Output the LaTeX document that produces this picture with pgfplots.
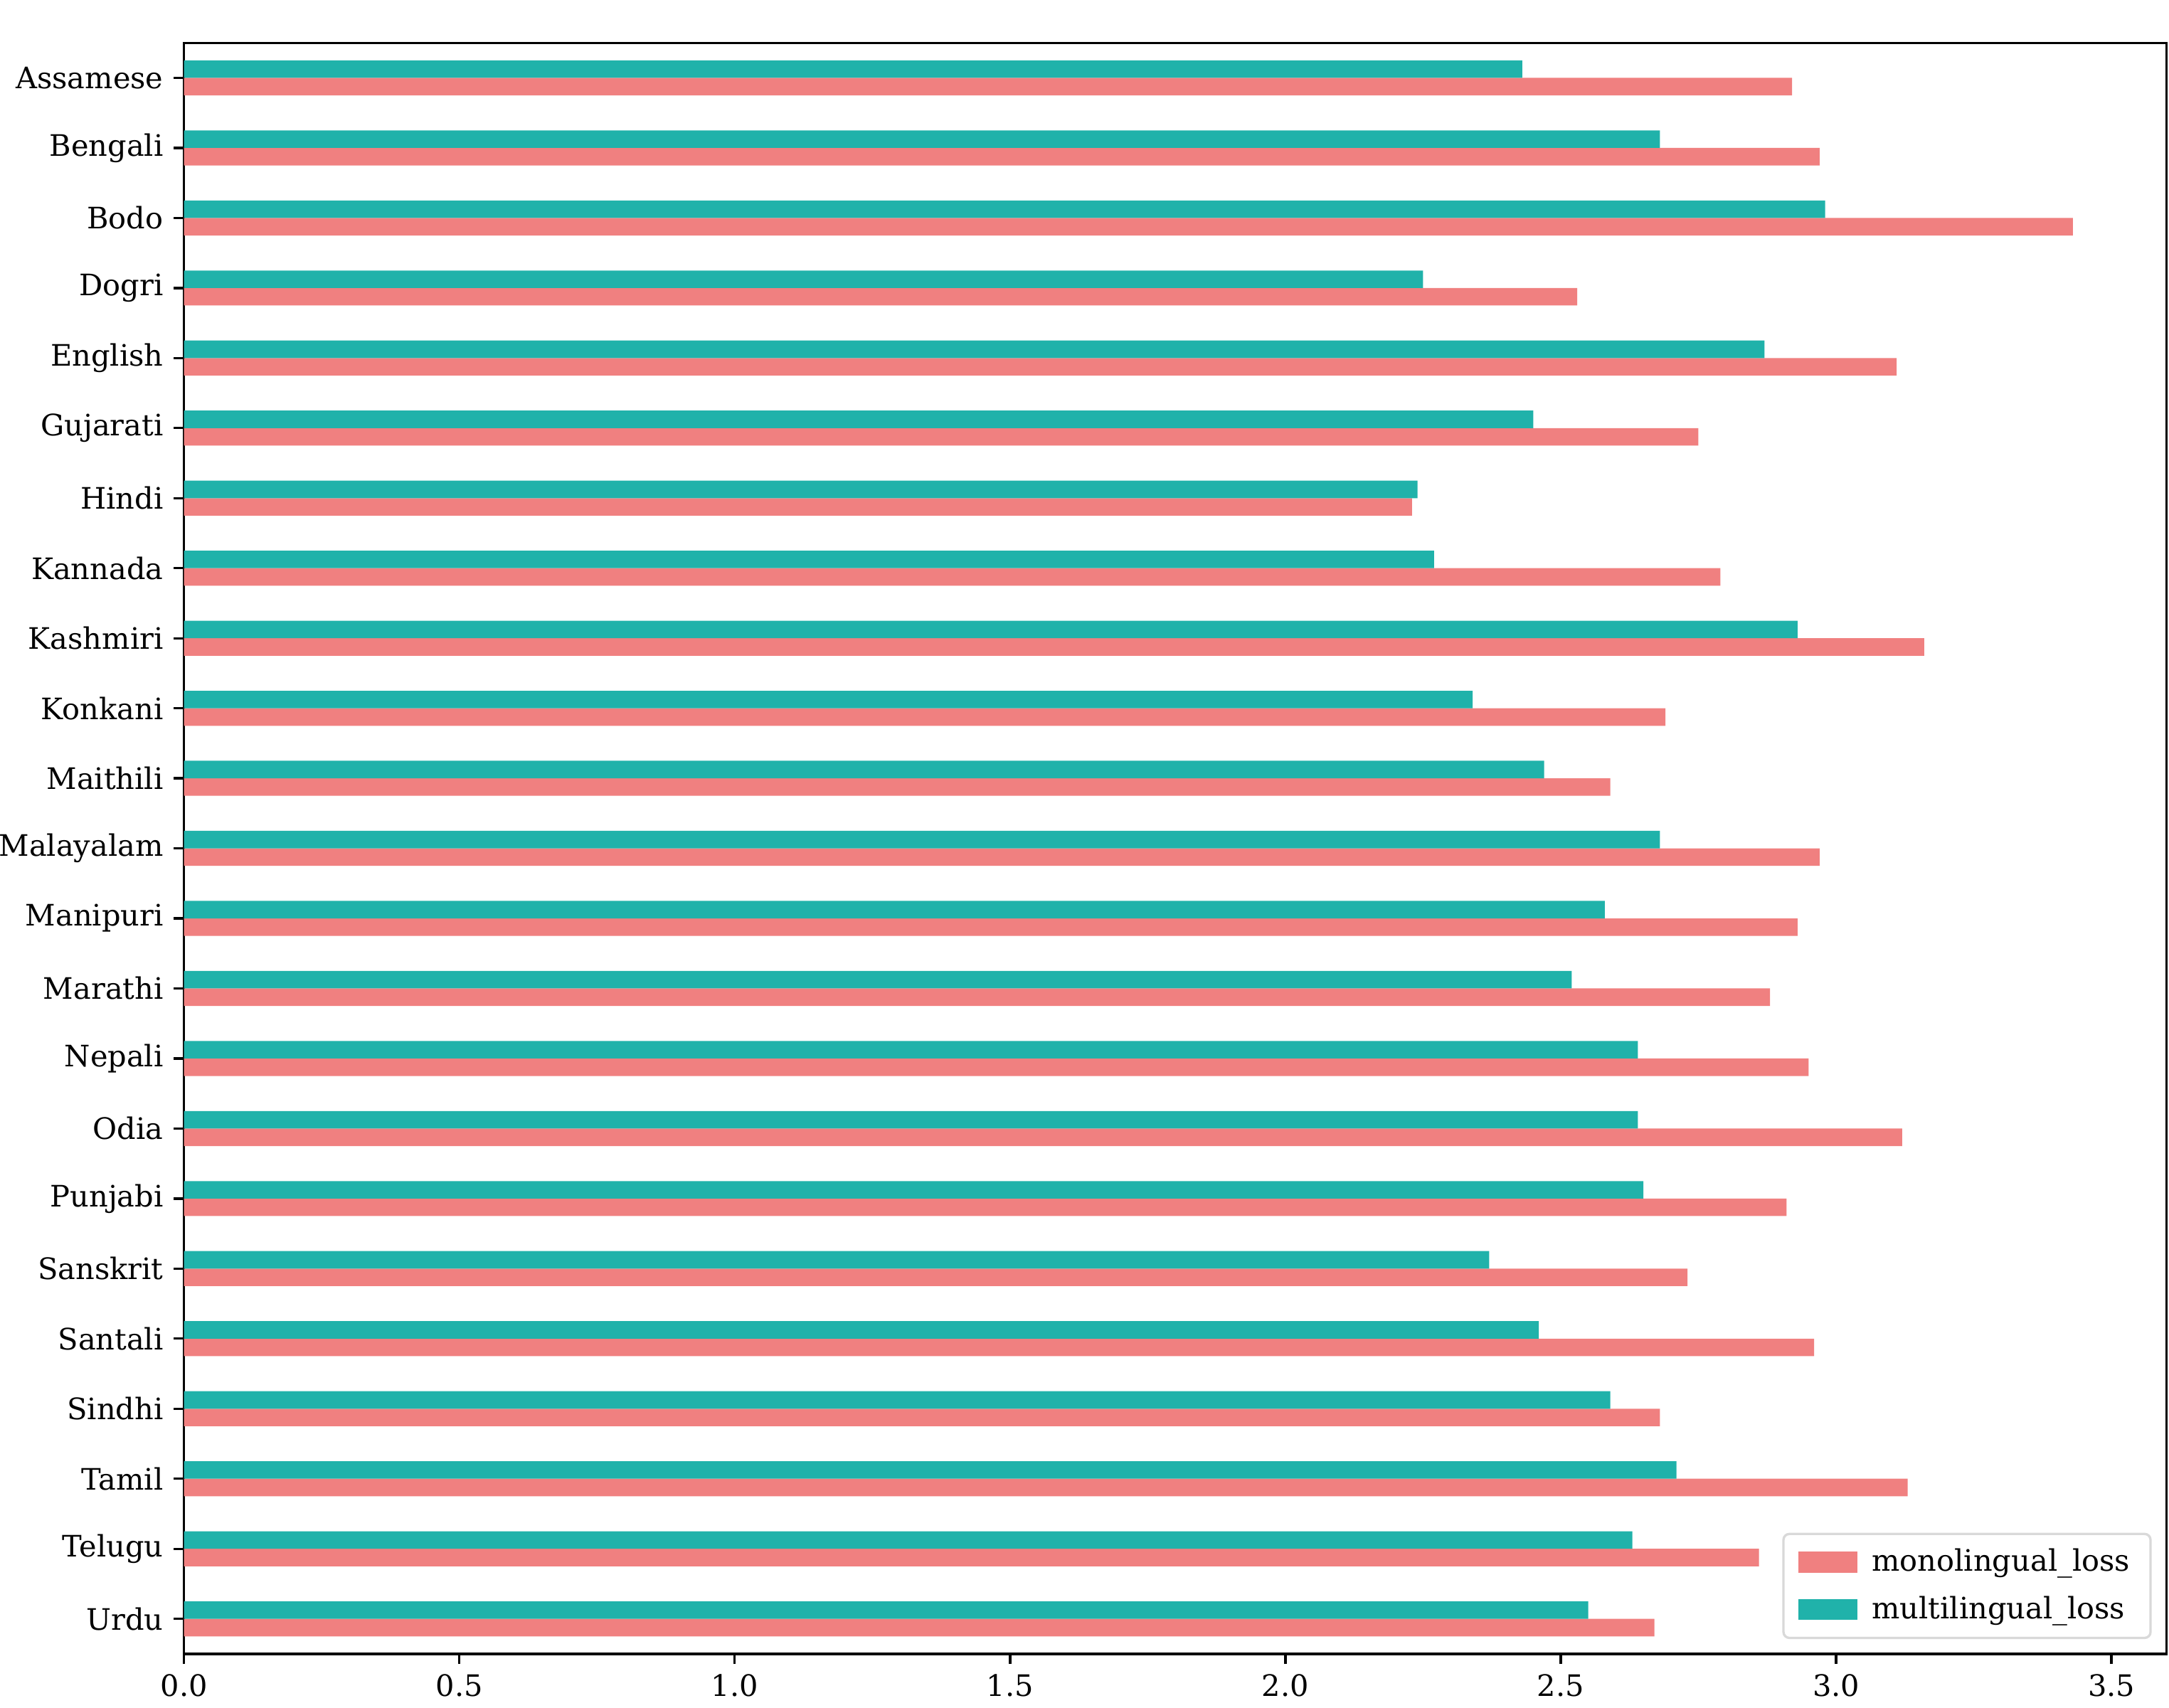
\documentclass[border=0pt]{standalone}
\usepackage{fontspec}
\setmainfont{DejaVu Serif}
\usepackage{pgfplots}
\pgfplotsset{compat=1.18}
\definecolor{mono}{RGB}{240,128,128}
\definecolor{multi}{RGB}{32,178,170}

% y = category index (0 = Assamese), x = loss
\pgfplotstableread{
idx mono multi
0  2.92 2.43
1  2.97 2.68
2  3.43 2.98
3  2.53 2.25
4  3.11 2.87
5  2.75 2.45
6  2.23 2.24
7  2.79 2.27
8  3.16 2.93
9  2.69 2.34
10 2.59 2.47
11 2.97 2.68
12 2.93 2.58
13 2.88 2.52
14 2.95 2.64
15 3.12 2.64
16 2.91 2.65
17 2.73 2.37
18 2.96 2.46
19 2.68 2.59
20 3.13 2.71
21 2.86 2.63
22 2.67 2.55
}\losses

\begin{document}
\begin{tikzpicture}
\useasboundingbox (-2.19cm,-0.64cm) rectangle (23.62cm,19.68cm);
\begin{axis}[
  at={(0,0)}, anchor=south west,
  scale only axis,
  width=23.59cm, height=19.17cm,
  xbar, bar width=0.25, draw=none,
  xmin=0, xmax=3.6,
  ymin=-0.5, ymax=22.5, y dir=reverse,
  ytick={0,...,22},
  yticklabels={Assamese,Bengali,Bodo,Dogri,English,Gujarati,Hindi,Kannada,Kashmiri,Konkani,Maithili,Malayalam,Manipuri,Marathi,Nepali,Odia,Punjabi,Sanskrit,Santali,Sindhi,Tamil,Telugu,Urdu},
  xtick={0,0.5,...,3.5},
  xticklabel style={/pgf/number format/.cd, fixed, fixed zerofill, precision=1, assume math mode=true},
  tick align=outside, xtick pos=bottom, ytick pos=left,
  major tick length=3.5pt,
  tick style={black, line width=0.8pt},
  axis line style={line width=0.8pt},
  legend cell align=left,
  legend style={at={(1,0)}, anchor=south east, xshift=-5pt, yshift=5pt,
    draw=black!15, line width=0.8pt, rounded corners=2pt,
    inner xsep=5pt, inner ysep=3pt, row sep=3pt, column sep=3pt},
  legend image code/.code={\fill[#1, sharp corners] (0pt,-3.5pt) rectangle (20pt,3.5pt);},
]
\addplot[fill=mono, draw=none, bar shift=0.125] table[x=mono, y=idx] {\losses};
\addplot[fill=multi, draw=none, bar shift=-0.125] table[x=multi, y=idx] {\losses};
\legend{monolingual\_loss, multilingual\_loss}
\end{axis}
\end{tikzpicture}
\end{document}
